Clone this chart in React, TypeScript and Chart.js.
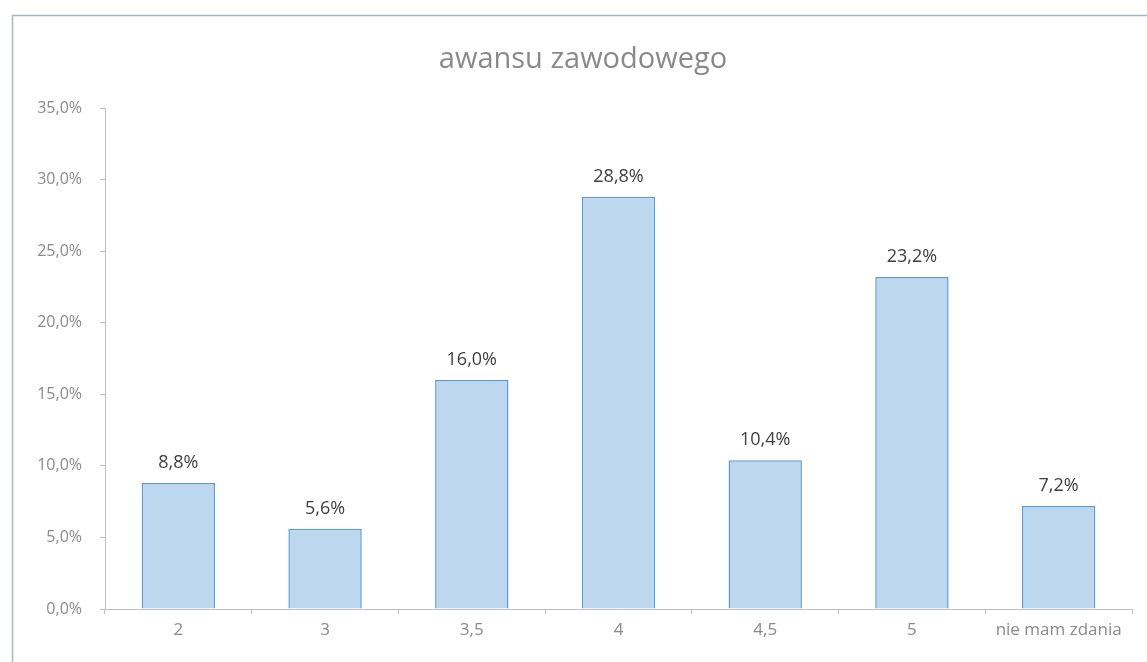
import React, { useEffect, useRef } from "react";
import { Chart, registerables } from "chart.js";

Chart.register(...registerables);

const categories = ["2", "3", "3,5", "4", "4,5", "5", "nie mam zdania"];
const values = [8.8, 5.6, 16.0, 28.8, 10.4, 23.2, 7.2];
const yTicks = [0, 5, 10, 15, 20, 25, 30, 35];
const chartTitle = "awansu zawodowego";

const fmt = (v: number) => v.toFixed(1).replace(".", ",") + "%";

const framePlugin = {
  id: "frame",
  beforeDraw(chart: any) {
    const ctx = chart.ctx;
    ctx.save();
    ctx.fillStyle = "#ffffff";
    ctx.fillRect(0, 0, chart.width, chart.height);
    ctx.strokeStyle = "#a9b6c4";
    ctx.lineWidth = 1.5;
    ctx.strokeRect(12.5, 15.5, chart.width + 20, chart.height + 20);
    ctx.fillStyle = "#8a8a8a";
    ctx.font = "29px 'Open Sans'";
    ctx.textAlign = "center";
    ctx.textBaseline = "middle";
    ctx.fillText(chartTitle, 583, 60);
    ctx.restore();
  },
  afterDatasetsDraw(chart: any) {
    const ctx = chart.ctx;
    const meta = chart.getDatasetMeta(0);
    const area = chart.chartArea;
    ctx.save();
    ctx.strokeStyle = "#bfbfbf";
    ctx.lineWidth = 1;
    ctx.beginPath();
    ctx.moveTo(area.left, Math.round(area.bottom) + 0.5);
    ctx.lineTo(area.right, Math.round(area.bottom) + 0.5);
    ctx.stroke();
    ctx.fillStyle = "#404040";
    ctx.font = "18px 'Open Sans'";
    ctx.textAlign = "center";
    ctx.textBaseline = "bottom";
    meta.data.forEach((bar: any, i: number) => {
      ctx.fillText(fmt(values[i]), bar.x, bar.y - 11);
    });
    ctx.restore();
  },
};

export default function App() {
  const ref = useRef<HTMLCanvasElement>(null);
  useEffect(() => {
    document.body.style.margin = "0";
    const chart = new Chart(ref.current!, {
      type: "bar",
      data: {
        labels: categories,
        datasets: [
          {
            data: values,
            backgroundColor: "#bdd7ee",
            borderColor: "#5b9bd5",
            borderWidth: 1.5,
            barPercentage: 0.5,
            categoryPercentage: 1,
          },
        ],
      },
      options: {
        animation: false,
        responsive: false,
        layout: { padding: { left: 0, top: 108, right: 15, bottom: 0 } },
        plugins: {
          legend: { display: false },
          tooltip: { enabled: false },
          title: { display: false },
        },
        scales: {
          x: {
            grid: {
              drawOnChartArea: false,
              offset: true,
              color: "#bfbfbf",
              tickLength: 5,
            },
            border: { display: false },
            ticks: {
              color: "#8a8a8a",
              font: { family: "'Open Sans'", size: 17 },
              padding: 6,
              maxRotation: 0,
              autoSkip: false,
            },
            afterFit(scale: any) {
              scale.height = 53;
            },
          },
          y: {
            min: 0,
            max: 35,
            afterBuildTicks(scale: any) {
              scale.ticks = yTicks.map((v) => ({ value: v }));
            },
            grid: {
              drawOnChartArea: false,
              color: "#bfbfbf",
              tickLength: 5,
            },
            border: { color: "#bfbfbf" },
            ticks: {
              color: "#8a8a8a",
              font: { family: "'Open Sans'", size: 16 },
              padding: 18,
              callback: (v: any) => fmt(Number(v)),
            },
            afterFit(scale: any) {
              scale.width = 105;
            },
          },
        },
      },
      plugins: [framePlugin],
    });
    return () => chart.destroy();
  }, []);
  return <canvas ref={ref} width={1147} height={662} style={{ display: "block" }} />;
}
